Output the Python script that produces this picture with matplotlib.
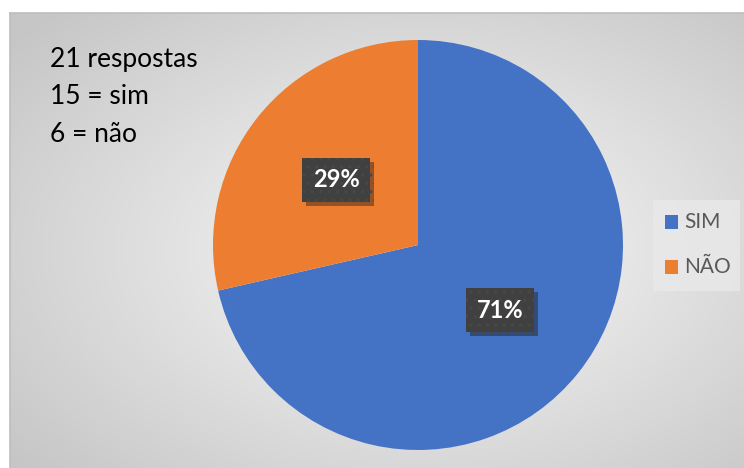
import numpy as np
import matplotlib.pyplot as plt
import matplotlib.patheffects as pe

labels = ["SIM", "NÃO"]
values = [15, 6]
colors = ["#4472C4", "#ED7D31"]
notes = ["21 respostas", "15 = sim", "6 = não"]

plt.rcParams['font.family'] = ['Lato', 'DejaVu Sans']
plt.rcParams['hatch.linewidth'] = 1.2

W, H = 744, 468
fig = plt.figure(figsize=(W / 100, H / 100), dpi=100)
fig.patch.set_facecolor("white")

# chart area with radial gray gradient
x0, y0 = 10, 13
bg = fig.add_axes([x0 / W, 0, 1 - x0 / W, 1 - y0 / H])
gx, gy = np.meshgrid(np.linspace(0, 1, 400), np.linspace(0, 1, 300))
d = np.sqrt(((gx - 0.56) / 0.75) ** 2 + ((gy - 0.52) / 0.75) ** 2)
shade = np.clip(0.98 - 0.21 * d, 0.78, 0.98)
bg.imshow(np.dstack([shade] * 3), extent=[0, 1, 0, 1], aspect="auto", origin="upper")
bg.set_xlim(0, 1)
bg.set_ylim(0, 1)
bg.set_xticks([])
bg.set_yticks([])
for side in ["right", "bottom"]:
    bg.spines[side].set_visible(False)
for side in ["top", "left"]:
    bg.spines[side].set_color("#bdbdbd")
    bg.spines[side].set_linewidth(1.2)

# legend background box
bg.add_patch(plt.Rectangle(((653 - x0) / (W - x0), 1 - (291 - y0) / (H - y0)),
                           87 / (W - x0), 91 / (H - y0),
                           facecolor="#e9e9e9", edgecolor="none", alpha=0.8))

for i, t in enumerate(notes):
    fig.text(50 / W, 1 - (60 + 37 * i) / H, t, fontsize=19, color="black",
             va="center", ha="left")

# pie
cx, cy, r = 418, 245, 205
ax = fig.add_axes([(cx - r) / W, (H - cy - r) / H, 2 * r / W, 2 * r / H])
wedges, texts, autotexts = ax.pie(values, colors=colors, startangle=90, counterclock=False,
                                  autopct="%1.0f%%", pctdistance=0.51,
                                  wedgeprops=dict(linewidth=0))
ax.set_xlim(-1, 1)
ax.set_ylim(-1, 1)
ax.set_aspect("equal")
ax.axis("off")

for t in autotexts:
    t.set_color("white")
    t.set_fontsize(17)
    t.set_fontweight("bold")
    t.set_bbox(dict(boxstyle="square,pad=0.45", facecolor="#404040",
                    edgecolor="#474747", linewidth=0, hatch=".."))
    t.get_bbox_patch().set_path_effects([pe.withSimplePatchShadow(offset=(3, -3), alpha=0.4),
                                         pe.Normal()])

# legend
for i, (lab, col) in enumerate(zip(labels, colors)):
    yc = 222 + 45 * i
    fig.patches.append(plt.Rectangle((665 / W, 1 - (yc + 7) / H), 13 / W, 14 / H,
                                     facecolor=col, edgecolor="none",
                                     transform=fig.transFigure, figure=fig))
    fig.text(684 / W, 1 - yc / H, lab, fontsize=15, color="#595959",
             va="center", ha="left")

fig.savefig("out.png", dpi=100)
